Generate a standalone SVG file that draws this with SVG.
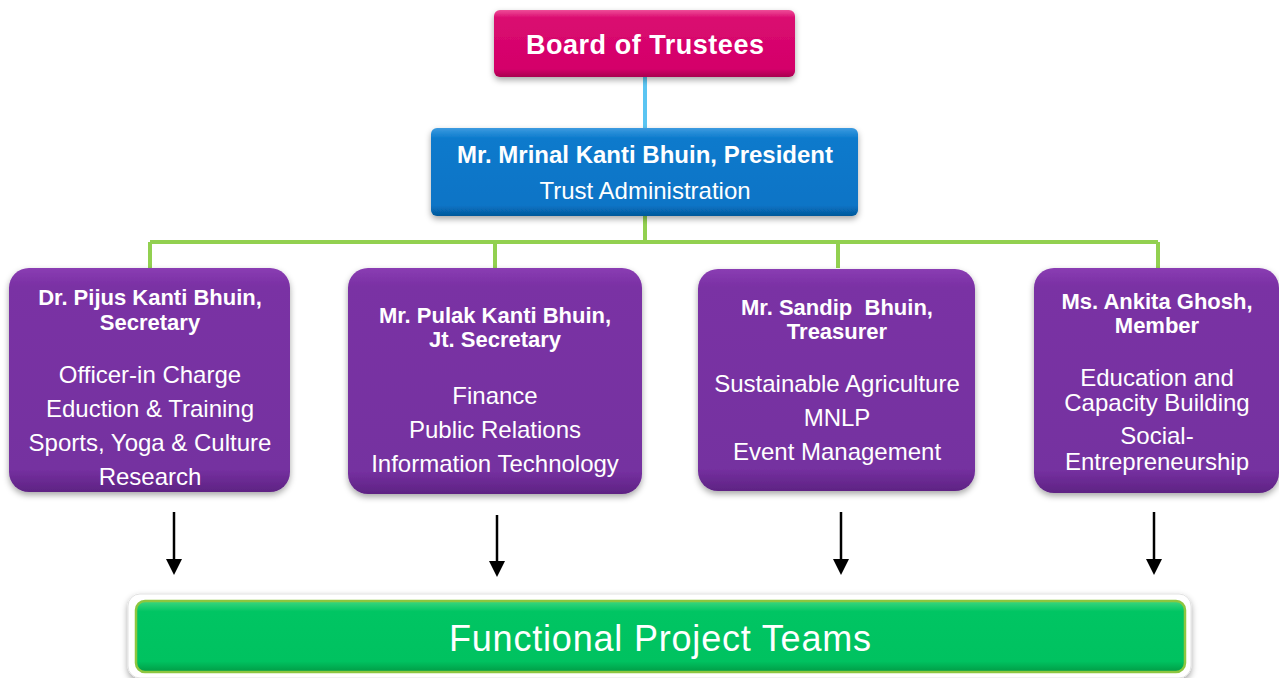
<svg xmlns="http://www.w3.org/2000/svg" width="1279" height="678" viewBox="0 0 1279 678">
<defs>
<style>
.t{font-family:"Liberation Sans",Arial,sans-serif;fill:#fff;text-anchor:middle}
.b{font-weight:bold}
.ttl{font-size:22px;font-weight:bold}
.itm{font-size:24px}
.conn{stroke:#92D050;stroke-width:4;fill:none}
.purple{fill:url(#gP)}
.arr{stroke:#000;stroke-width:2.5}
</style>
<linearGradient id="gP" x1="0" y1="0" x2="0" y2="1">
<stop offset="0" stop-color="#8A3DB3"/>
<stop offset="0.08" stop-color="#7A30A4"/>
<stop offset="0.9" stop-color="#7530A0"/>
<stop offset="1" stop-color="#5E2383"/>
</linearGradient>
<linearGradient id="gR" x1="0" y1="0" x2="0" y2="1">
<stop offset="0" stop-color="#EE4D98"/>
<stop offset="0.12" stop-color="#DA0B70"/>
<stop offset="0.88" stop-color="#D4006A"/>
<stop offset="1" stop-color="#A8004F"/>
</linearGradient>
<linearGradient id="gB" x1="0" y1="0" x2="0" y2="1">
<stop offset="0" stop-color="#3C9BE0"/>
<stop offset="0.12" stop-color="#0C7ACC"/>
<stop offset="0.88" stop-color="#0874C6"/>
<stop offset="1" stop-color="#05589A"/>
</linearGradient>
<linearGradient id="gG" x1="0" y1="0" x2="0" y2="1">
<stop offset="0" stop-color="#3ED67F"/>
<stop offset="0.15" stop-color="#00C563"/>
<stop offset="0.85" stop-color="#00C260"/>
<stop offset="1" stop-color="#019B45"/>
</linearGradient>
<filter id="sh" x="-10%" y="-10%" width="120%" height="130%">
<feDropShadow dx="0" dy="3" stdDeviation="3" flood-color="#000" flood-opacity="0.35"/>
</filter>
</defs>

<g id="connectors">
<line x1="645" y1="77" x2="645" y2="128" stroke="#5BC5F2" stroke-width="4"/>
<path class="conn" d="M645 216V242M150 242H1158M150 242V268M495 242V268M838 242V268M1158 242V268"/>
<g class="arr">
<line x1="174" y1="512" x2="174" y2="562"/>
<line x1="497" y1="515" x2="497" y2="564"/>
<line x1="841" y1="512" x2="841" y2="562"/>
<line x1="1154" y1="512" x2="1154" y2="562"/>
</g>
<g fill="#000">
<polygon points="166,559 182,559 174,575"/>
<polygon points="489,561 505,561 497,577"/>
<polygon points="833,559 849,559 841,575"/>
<polygon points="1146,559 1162,559 1154,575"/>
</g>
</g>

<g id="board">
<rect x="494" y="10" width="301" height="67" rx="6" fill="url(#gR)" filter="url(#sh)"/>
<text class="t b" x="645" y="54" font-size="27" textLength="238">Board of Trustees</text>
</g>

<g id="president">
<rect x="431" y="128" width="427" height="88" rx="6" fill="url(#gB)" filter="url(#sh)"/>
<text class="t b" x="645" y="163" font-size="24">Mr. Mrinal Kanti Bhuin, President</text>
<text class="t" x="645" y="199" font-size="24">Trust Administration</text>
</g>

<g id="secretary">
<rect class="purple" x="9" y="268" width="281" height="224" rx="20" filter="url(#sh)"/>
<text class="t ttl" x="150" y="305">Dr. Pijus Kanti Bhuin,</text>
<text class="t ttl" x="150" y="330">Secretary</text>
<text class="t itm" x="150" y="383">Officer-in Charge</text>
<text class="t itm" x="150" y="417">Eduction &amp; Training</text>
<text class="t itm" x="150" y="451">Sports, Yoga &amp; Culture</text>
<text class="t itm" x="150" y="485">Research</text>
</g>

<g id="jt-secretary">
<rect class="purple" x="348" y="268" width="294" height="226" rx="20" filter="url(#sh)"/>
<text class="t ttl" x="495" y="323">Mr. Pulak Kanti Bhuin,</text>
<text class="t ttl" x="495" y="347">Jt. Secretary</text>
<text class="t itm" x="495" y="404">Finance</text>
<text class="t itm" x="495" y="438">Public Relations</text>
<text class="t itm" x="495" y="472">Information Technology</text>
</g>

<g id="treasurer">
<rect class="purple" x="698" y="269" width="277" height="222" rx="20" filter="url(#sh)"/>
<text class="t ttl" x="837" y="315" xml:space="preserve">Mr. Sandip  Bhuin,</text>
<text class="t ttl" x="837" y="339">Treasurer</text>
<text class="t itm" x="837" y="392">Sustainable Agriculture</text>
<text class="t itm" x="837" y="426">MNLP</text>
<text class="t itm" x="837" y="460">Event Management</text>
</g>

<g id="member">
<rect class="purple" x="1034" y="268" width="245" height="225" rx="20" filter="url(#sh)"/>
<text class="t ttl" x="1157" y="309">Ms. Ankita Ghosh,</text>
<text class="t ttl" x="1157" y="333">Member</text>
<text class="t itm" x="1157" y="386">Education and</text>
<text class="t itm" x="1157" y="411">Capacity Building</text>
<text class="t itm" x="1157" y="444">Social-</text>
<text class="t itm" x="1157" y="470">Entrepreneurship</text>
</g>

<g id="teams">
<rect x="128" y="594" width="1063" height="84" rx="12" fill="#fff" stroke="#e2e2e2" stroke-width="1" filter="url(#sh)"/>
<rect x="136" y="601" width="1049" height="71" rx="9" fill="url(#gG)" stroke="#8DC63F" stroke-width="2.5"/>
<text class="t" x="660" y="651" font-size="36" textLength="422">Functional Project Teams</text>
</g>
</svg>
